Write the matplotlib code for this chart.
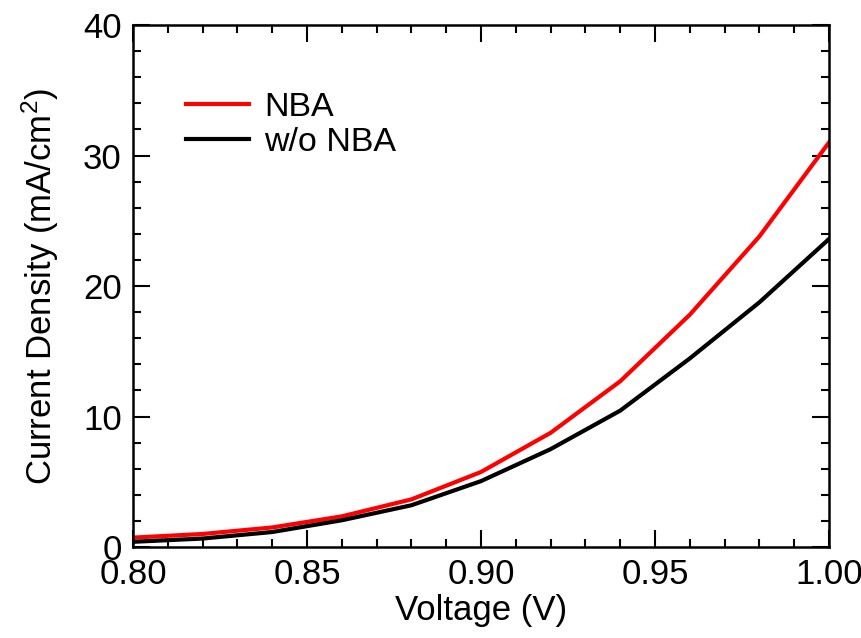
"""J-V curves with and without NBA, redrawn in matplotlib."""

import matplotlib

matplotlib.use("Agg")
import matplotlib.pyplot as plt
import numpy as np
from matplotlib.ticker import MultipleLocator

voltage = [0.80, 0.82, 0.84, 0.86, 0.88, 0.90, 0.92, 0.94, 0.96, 0.98, 1.00]
j_nba = [0.72, 1.0, 1.5, 2.35, 3.65, 5.75, 8.75, 12.7, 17.8, 23.8, 31.0]
j_without = [0.4, 0.65, 1.15, 2.05, 3.2, 5.05, 7.5, 10.45, 14.45, 18.75, 23.6]

x_ticks = [0.80, 0.85, 0.90, 0.95, 1.00]
x_tick_labels = ["0.80", "0.85", "0.90", "0.95", "1.00"]
y_ticks = [0, 10, 20, 30, 40]

plt.rcParams["font.family"] = ["Liberation Sans", "DejaVu Sans"]
plt.rcParams["mathtext.fontset"] = "custom"
plt.rcParams["mathtext.rm"] = "Liberation Sans"
plt.rcParams["mathtext.it"] = "Liberation Sans:italic"

fig = plt.figure(figsize=(8.62, 6.38), dpi=100)
ax = fig.add_axes([0.1543, 0.1426, 0.8074, 0.8182])

ax.plot(voltage, j_nba, color="#ff0000", linewidth=3, label="NBA")
ax.plot(voltage, j_without, color="black", linewidth=3, label="w/o NBA")

ax.set_xlim(0.80, 1.00)
ax.set_ylim(0, 40)
ax.set_xticks(x_ticks)
ax.set_xticklabels(x_tick_labels)
ax.set_yticks(y_ticks)
ax.xaxis.set_minor_locator(MultipleLocator(0.01))
ax.yaxis.set_minor_locator(MultipleLocator(2))

for side in ax.spines.values():
    side.set_linewidth(1.8)
ax.tick_params(which="both", direction="in", top=True, right=True, width=1.5,
               labelsize=25)
ax.tick_params(which="major", length=12, pad=8)
ax.tick_params(which="minor", length=6)

ax.set_xlabel("Voltage (V)", fontsize=25, labelpad=2)
ax.set_ylabel("Current Density (mA/cm$^{2}$)", fontsize=25, labelpad=16)

ax.legend(loc="upper left", bbox_to_anchor=(0.032, 0.93), frameon=False,
          fontsize=24.5, handlelength=1.85, handletextpad=0.45, labelspacing=0.1)

fig.savefig("out.png", dpi=100)
